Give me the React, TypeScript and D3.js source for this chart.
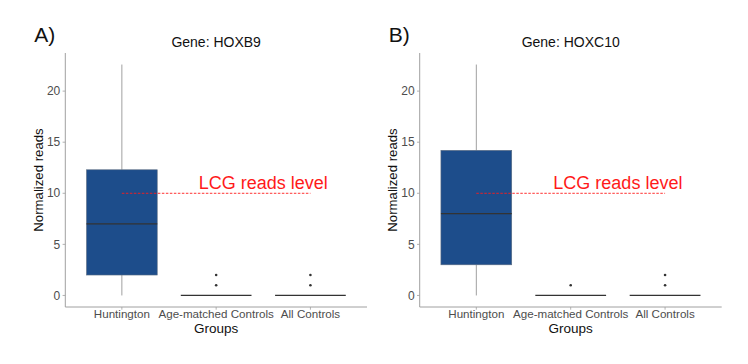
import React from 'react';
import * as d3 from 'd3';

// groups on the x axis
const groups = ['Huntington', 'Age-matched Controls', 'All Controls'];

// box stats per group: [min, q1, median, q3, max]
const hoxb9Stats = [
  [0, 2, 7, 12.3, 22.6],
  [0, 0, 0, 0, 0],
  [0, 0, 0, 0, 0],
];
const hoxb9Outliers = [[], [1, 2], [1, 2]];

const hoxc10Stats = [
  [0, 3, 8, 14.2, 22.6],
  [0, 0, 0, 0, 0],
  [0, 0, 0, 0, 0],
];
const hoxc10Outliers = [[], [1], [1, 2]];

const yTicks = [0, 5, 10, 15, 20];
const lcgLevel = 10;
const lcgLabel = 'LCG reads level';

const W = 748;
const H = 364;
const FONT = '"Liberation Sans", Arial, Helvetica, sans-serif';
const BOX_FILL = '#1d4d8b';

type PanelProps = {
  tag: string;
  gene: string;
  stats: number[][];
  outliers: number[][];
  x0: number;
  x1: number;
};

const Panel = ({ tag, gene, stats, outliers, x0, x1 }: PanelProps) => {
  const top = 53;
  const bottom = 307;
  const y = d3.scaleLinear().domain([-1.13, 23.73]).range([bottom, top]);
  const x = d3.scalePoint<string>().domain(groups).range([x0, x1]).padding(0.6);
  const step = x.step();
  const bw = step * 0.75;
  const mid = (x0 + x1) / 2;

  // annotation sits halfway between the 2nd and 3rd group
  const labelX = (x(groups[1])! + x(groups[2])!) / 2;

  return (
    <g fontFamily={FONT}>
      <text x={x0 - 31} y={42} fontSize={21} fill="#111">{tag}</text>
      <text x={mid} y={46.5} fontSize={14} textAnchor="middle" fill="#111">{`Gene: ${gene}`}</text>

      {/* axes */}
      <line x1={x0} x2={x0} y1={top} y2={bottom} stroke="#a0a0a0" strokeWidth={1} />
      <line x1={x0} x2={x1} y1={bottom} y2={bottom} stroke="#a0a0a0" strokeWidth={1} />
      {yTicks.map(t => (
        <g key={t}>
          <line x1={x0 - 2.7} x2={x0} y1={y(t)} y2={y(t)} stroke="#a0a0a0" strokeWidth={0.8} />
          <text x={x0 - 5} y={y(t)} dy="0.35em" textAnchor="end" fontSize={12} fill="#4d4d4d">{t}</text>
        </g>
      ))}
      {groups.map(gname => (
        <g key={gname}>
          <line x1={x(gname)} x2={x(gname)} y1={bottom} y2={bottom + 2.7} stroke="#a0a0a0" strokeWidth={0.8} />
          <text x={x(gname)} y={318} textAnchor="middle" fontSize={11.6} fill="#4d4d4d">{gname}</text>
        </g>
      ))}
      <text x={mid} y={332.5} textAnchor="middle" fontSize={13.5} fill="#111">Groups</text>
      <text
        transform={`translate(${x0 - 27}, ${(top + bottom) / 2}) rotate(-90)`}
        textAnchor="middle" dy="0.35em" fontSize={13.2} fill="#111"
      >Normalized reads</text>

      {/* boxes */}
      {groups.map((gname, i) => {
        const [mn, q1, md, q3, mx] = stats[i];
        const cx = x(gname)!;
        return (
          <g key={gname}>
            {mx > q3 && <line x1={cx} x2={cx} y1={y(q3)} y2={y(mx)} stroke="#a0a0a0" strokeWidth={1} />}
            {q1 > mn && <line x1={cx} x2={cx} y1={y(q1)} y2={y(mn)} stroke="#a0a0a0" strokeWidth={1} />}
            {q3 > q1 && (
              <rect x={cx - bw / 2} y={y(q3)} width={bw} height={y(q1) - y(q3)}
                fill={BOX_FILL} stroke="#5a6b80" strokeWidth={0.6} />
            )}
            <line x1={cx - bw / 2} x2={cx + bw / 2} y1={y(md)} y2={y(md)} stroke="#333" strokeWidth={1.2} />
            {outliers[i].map(v => (
              <circle key={v} cx={cx} cy={y(v)} r={1.3} fill="#333" />
            ))}
          </g>
        );
      })}

      {/* LCG reference level */}
      <line x1={x(groups[0])} x2={x(groups[2])} y1={y(lcgLevel)} y2={y(lcgLevel)}
        stroke="#ff1a1a" strokeWidth={0.9} strokeDasharray="2.5,1.5" />
      <text x={labelX} y={y(11)} dy="0.35em" textAnchor="middle" fontSize={18} fill="#ff1a1a">{lcgLabel}</text>
    </g>
  );
};

export default function App() {
  return (
    <svg width={W} height={H} style={{ display: 'block', margin: '-8px 0 0 -8px', background: '#fff' }}>
      <rect width={W} height={H} fill="#fff" />
      <Panel tag="A)" gene="HOXB9" stats={hoxb9Stats} outliers={hoxb9Outliers} x0={65.3} x1={367} />
      <Panel tag="B)" gene="HOXC10" stats={hoxc10Stats} outliers={hoxc10Outliers} x0={419.7} x1={721.7} />
    </svg>
  );
}
